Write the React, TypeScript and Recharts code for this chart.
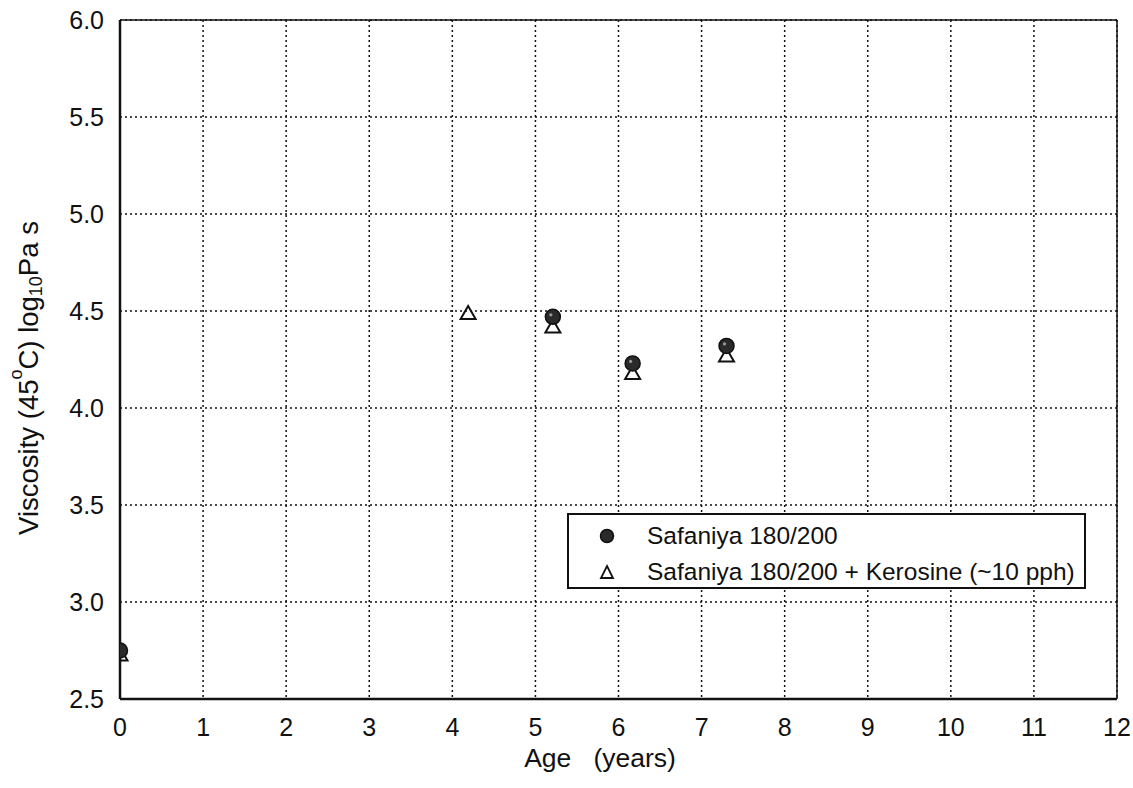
import { ScatterChart, Scatter, XAxis, YAxis, CartesianGrid, ReferenceLine } from "recharts";

const plainAges = [0, 5.21, 6.17, 7.3];
const plainViscosity = [2.75, 4.47, 4.23, 4.32];

const keroseneAges = [0, 4.19, 5.21, 6.17, 7.3];
const keroseneViscosity = [2.73, 4.49, 4.42, 4.18, 4.27];

const xTicks = [0, 1, 2, 3, 4, 5, 6, 7, 8, 9, 10, 11, 12];
const yTicks = [2.5, 3.0, 3.5, 4.0, 4.5, 5.0, 5.5, 6.0];

const seriesNames = ["Safaniya 180/200", "Safaniya 180/200 + Kerosine (~10 pph)"];

const plainData = plainAges.map((age, i) => ({ age, visc: plainViscosity[i] }));
const keroseneData = keroseneAges.map((age, i) => ({ age, visc: keroseneViscosity[i] }));

const FONT = "'Liberation Sans', Arial, sans-serif";

const Dot = (props: any) => {
  const { cx, cy } = props;
  return (
    <g>
      <circle cx={cx} cy={cy} r={7.5} fill="#2a2a2a" stroke="#111" strokeWidth={1.5} />
      <circle cx={cx - 2} cy={cy - 2} r={1.6} fill="#999" />
    </g>
  );
};

const Tri = (props: any) => {
  const { cx, cy } = props;
  return (
    <path
      d={`M${cx},${cy - 7} L${cx + 7.5},${cy + 6} L${cx - 7.5},${cy + 6} Z`}
      fill="none"
      stroke="#111"
      strokeWidth={2}
    />
  );
};

const YLabel = () => {
  const cx = 28;
  const cy = 378;
  return (
    <text
      x={cx}
      y={cy}
      transform={`rotate(-90, ${cx}, ${cy})`}
      textAnchor="middle"
      dominantBaseline="central"
      fontSize={27.5}
      fontFamily={FONT}
      fill="#111"
    >
      Viscosity (45
      <tspan fontSize={18} dy={-12}>o</tspan>
      <tspan dy={12}>C) log</tspan>
      <tspan fontSize={18} dy={8}>10</tspan>
      <tspan dy={-8}>Pa s</tspan>
    </text>
  );
};

const XLabel = () => (
  <text
    x={600}
    y={758}
    textAnchor="middle"
    dominantBaseline="central"
    fontSize={26.5}
    fontFamily={FONT}
    fill="#111"
    style={{ whiteSpace: "pre" }}
  >
    {"Age   (years)"}
  </text>
);

const LegendBox = () => (
  <div
    style={{
      position: "absolute",
      left: 567,
      top: 513,
      width: 519,
      height: 76,
      border: "2px solid #111",
      background: "#fff",
      fontFamily: FONT,
      fontSize: 24.5,
      color: "#111",
      boxSizing: "border-box",
      padding: "3px 0 0 27px",
      lineHeight: "36px",
    }}
  >
    <div style={{ display: "flex", alignItems: "center", height: 36 }}>
      <svg width={22} height={22} style={{ marginRight: 29 }}>
        <circle cx={11} cy={11} r={6.5} fill="#2a2a2a" stroke="#111" strokeWidth={1.5} />
      </svg>
      {seriesNames[0]}
    </div>
    <div style={{ display: "flex", alignItems: "center", height: 36 }}>
      <svg width={22} height={22} style={{ marginRight: 29 }}>
        <path d="M11,5 L17,17 L5,17 Z" fill="none" stroke="#111" strokeWidth={1.8} />
      </svg>
      {seriesNames[1]}
    </div>
  </div>
);

export default function App() {
  return (
    <div style={{ position: "absolute", left: 0, top: 0, width: 1133, height: 788, background: "#fff" }}>
      <ScatterChart width={1133} height={788} margin={{ top: 20, right: 16, bottom: 29, left: 40 }}>
        <CartesianGrid stroke="#111" strokeDasharray="2 3" strokeWidth={1.5} />
        <XAxis
          type="number"
          dataKey="age"
          domain={[0, 12]}
          ticks={xTicks}
          allowDataOverflow
          height={60}
          axisLine={{ stroke: "#111", strokeWidth: 2.5 }}
          tickLine={false}
          tickMargin={13}
          tick={{ fontSize: 25, fontFamily: FONT, fill: "#111" }}
          label={<XLabel />}
        />
        <YAxis
          type="number"
          dataKey="visc"
          domain={[2.5, 6]}
          ticks={yTicks}
          allowDataOverflow
          width={80}
          axisLine={{ stroke: "#111", strokeWidth: 2.5 }}
          tickLine={false}
          tickMargin={10}
          tickFormatter={(v: number) => v.toFixed(1)}
          tick={{ fontSize: 25, fontFamily: FONT, fill: "#111" }}
          label={<YLabel />}
        />
        <ReferenceLine y={6} stroke="#111" strokeWidth={1.5} />
        <ReferenceLine x={12} stroke="#111" strokeWidth={1.5} />
        <Scatter name={seriesNames[1]} data={keroseneData} shape={<Tri />} isAnimationActive={false} />
        <Scatter name={seriesNames[0]} data={plainData} shape={<Dot />} isAnimationActive={false} />
      </ScatterChart>
      <LegendBox />
    </div>
  );
}
